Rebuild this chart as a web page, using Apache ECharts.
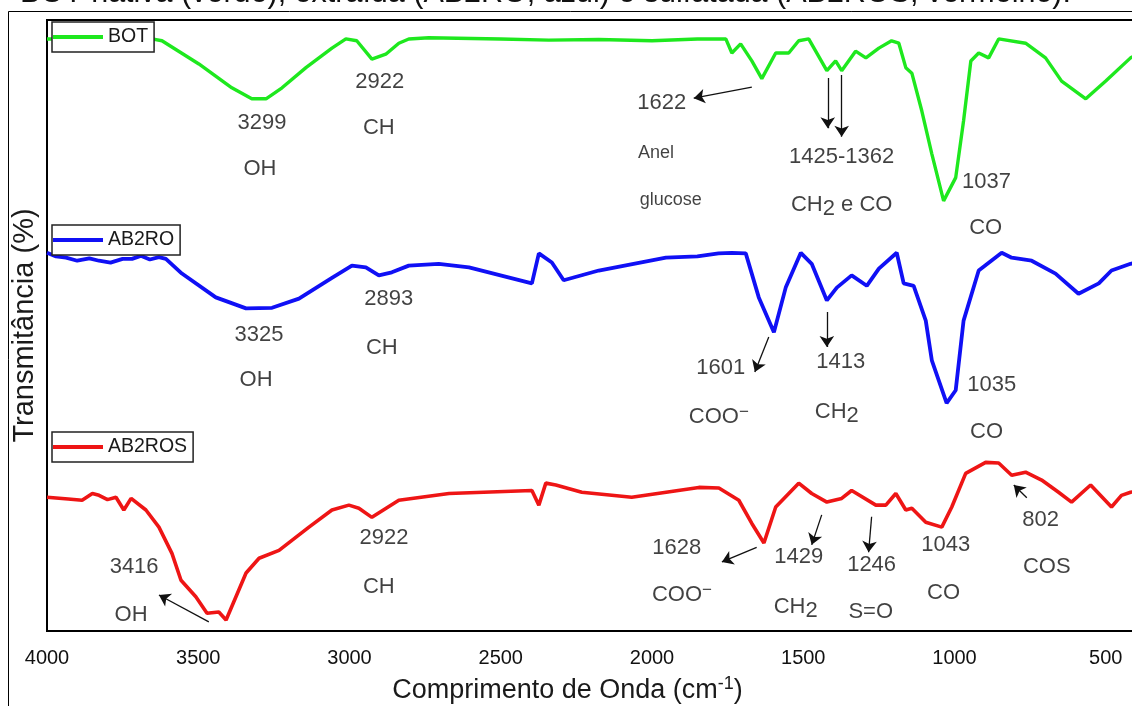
<!DOCTYPE html>
<html>
<head>
<meta charset="utf-8">
<script src="https://cdn.jsdelivr.net/npm/echarts@6/dist/echarts.min.js"></script>
<style>html,body{margin:0;padding:0;background:#fff}#c{width:1132px;height:706px}</style>
</head>
<body>
<div id="c"></div>
<script>
// ---------- data ----------
const xTicks = [4000, 3500, 3000, 2500, 2000, 1500, 1000, 500];

const botWave = [4000,3653,3620,3498,3389,3323,3276,3223,3144,3058,3012,2976,2926,2880,2837,2804,2738,2500,2341,2176,2000,1850,1756,1736,1707,1670,1637,1591,1548,1515,1482,1422,1393,1373,1327,1293,1250,1208,1184,1161,1141,1108,1075,1036,996,970,946,920,887,854,765,699,646,566,500,418,400];
const botT    = [96.9,96.9,96.6,92.8,88.9,87.1,87.1,88.9,92.2,95.4,96.9,96.6,93.6,94.4,96.2,96.9,97.1,96.9,96.7,96.8,96.6,96.9,96.9,94.6,96.1,93.3,90.4,94.6,94.6,96.6,96.9,91.7,93.3,91.7,94.9,93.8,95.4,96.6,96.2,92.2,91.3,85.1,78.1,70.4,74.2,83.5,93.3,94.6,93.8,96.9,96.2,93.8,90.0,87.1,90.0,93.8,94.2];

const ab2roWave = [4000,3970,3937,3900,3860,3828,3790,3750,3719,3690,3660,3630,3607,3554,3442,3342,3256,3167,3058,2992,2946,2903,2860,2804,2705,2605,2397,2374,2331,2292,2176,1954,1850,1780,1736,1690,1647,1597,1558,1508,1472,1422,1389,1340,1290,1250,1191,1168,1135,1095,1075,1026,996,970,920,844,811,745,666,590,523,481,418,400];
const ab2roT    = [61.9,61.3,61.1,60.6,61.0,60.6,60.3,60.9,60.9,61.4,60.8,61.2,60.9,58.5,54.6,52.8,52.9,54.4,57.8,59.8,59.5,58.2,58.7,59.8,60.1,59.5,56.9,61.8,60.3,57.4,59.0,61.1,61.3,61.8,61.9,61.8,54.6,48.9,56.2,61.9,60.1,54.1,56.2,58.2,56.5,59.3,61.9,56.9,56.5,50.8,44.3,37.3,39.4,50.8,59.0,61.9,61.1,60.6,58.5,55.2,56.9,59.0,60.1,60.3];

const ab2rosWave = [4000,3930,3884,3850,3828,3800,3772,3746,3722,3673,3630,3587,3557,3508,3471,3432,3408,3342,3299,3233,3134,3058,3002,2969,2926,2837,2671,2397,2374,2351,2318,2232,2067,1845,1779,1713,1670,1630,1591,1515,1472,1422,1373,1340,1260,1227,1194,1161,1141,1095,1042,1009,963,897,854,811,765,712,656,613,550,481,448,418,400];
const ab2rosT    = [21.9,21.6,21.4,22.5,22.2,21.5,21.9,19.8,21.7,19.8,17.0,12.7,8.3,5.6,2.9,3.1,1.8,9.5,11.9,13.2,17.0,19.8,20.6,20.1,18.6,21.4,22.5,23.0,20.6,24.2,23.9,22.7,21.9,23.5,23.4,21.4,17.6,14.4,20.3,24.2,22.5,21.1,21.7,23.0,20.6,20.6,22.5,19.8,20.1,17.8,17.0,20.3,25.8,27.6,27.5,25.5,26.0,24.7,22.7,21.1,23.9,20.3,22.2,22.7,22.9];

// annotation texts and where they sit (wavenumber, transmittance)
const annotText = ['3299','OH','2922','CH','1622','{sm|Anel}','{sm|glucose}','1425-1362','CH{sub|2} e CO','1037','CO',
                   '3325','OH','2893','CH','1601','COO{sup|−}','1413','CH{sub|2}','1035','CO',
                   '3416','OH','2922','CH','1628','COO{sup|−}','1429','CH{sub|2}','1246','S=O','1043','CO','802','COS'];
const annotV = [3289,3296,2900,2903,1968,1987,1938,1373,1373,894,897,
                3299,3309,2870,2893,1773,1779,1376,1389,877,894,
                3712,3722,2886,2903,1918,1901,1515,1525,1274,1277,1029,1036,715,695];
const annotT = [83.1,75.6,89.9,82.3,86.4,78.2,70.5,77.6,69.7,73.5,66.0,
                48.4,41.1,54.3,46.3,43.0,35.0,44.0,35.8,40.3,32.6,
                10.5,2.6,15.2,7.2,13.6,5.9,12.1,3.9,10.8,3.1,14.1,6.2,18.2,10.5];

// arrows: from (v,T) to (v,T) with head at the "to" end
const arrowFromV = [1670,1419,1373,1614,1422,3465,1654,1439,1274,761];
const arrowFromT = [89.0,90.5,91.0,48.1,52.2,1.5,13.7,19.0,18.7,21.8];
const arrowToV   = [1862,1419,1373,1660,1422,3630,1769,1472,1284,804];
const arrowToT   = [87.2,82.3,80.9,42.4,46.5,5.9,11.3,14.1,12.9,23.9];

const seriesNames = ['BOT', 'AB2RO', 'AB2ROS'];
// ---------------------------------------------------

const zip = (a, b) => a.map((v, i) => [v, b[i]]);
const font = "'Liberation Sans', Arial, Helvetica, sans-serif";

const annotData = annotText.map((t, i) => ({ value: [annotV[i], annotT[i]], text: t }));
const arrowData = arrowFromV.map((v, i) => ({
  coords: [[v, arrowFromT[i]], [arrowToV[i], arrowToT[i]]]
}));

const lineSeries = (name, data, color, w) => ({
  name, type: 'line', data, showSymbol: false, symbol: 'none',
  lineStyle: { color, width: w }, itemStyle: { color },
  animation: false, silent: true, z: 2
});

const legendBox = (name, top) => ({
  data: [name], left: 52, top, orient: 'horizontal',
  icon: 'rect', itemWidth: 50, itemHeight: 4,
  padding: [5, 6, 5, 1], itemGap: 0,
  borderColor: '#222', borderWidth: 1.5, backgroundColor: '#fff',
  textStyle: { fontSize: 19.5, color: '#1a1a1a', fontFamily: font },
  selectedMode: false, z: 10
});

const chart = echarts.init(document.getElementById('c'), null, { renderer: 'canvas' });
chart.setOption({
  backgroundColor: '#fff',
  animation: false,
  grid: { left: 47, right: -4, top: 20, bottom: 75, outerBoundsMode: 'none', containLabel: false,
          show: true, borderColor: '#000', borderWidth: 2, backgroundColor: 'transparent' },
  xAxis: {
    type: 'value', inverse: true, min: 400, max: 4000,
    axisLine: { show: true, lineStyle: { color: '#000', width: 2 } },
    axisTick: { show: false },
    splitLine: { show: false },
    axisLabel: { customValues: xTicks, formatter: v => String(v), fontSize: 20, color: '#111', margin: 17, fontFamily: font },
    name: 'Comprimento de Onda (cm{sup|-1})',
    nameLocation: 'middle', nameGap: 44,
    nameTextStyle: {
      fontSize: 27, color: '#1a1a1a', fontFamily: font, padding: [0, 48, 0, 0], lineHeight: 32,
      rich: { sup: { fontSize: 18, verticalAlign: 'top', color: '#1a1a1a', fontFamily: font, lineHeight: 32 } }
    }
  },
  yAxis: {
    type: 'value', min: 0, max: 100,
    axisLine: { show: true, lineStyle: { color: '#000', width: 2 } },
    axisTick: { show: false }, axisLabel: { show: false }, splitLine: { show: false },
    name: 'Transmitância (%)', nameLocation: 'middle', nameGap: 8,
    nameTextStyle: { fontSize: 29, color: '#1a1a1a', fontFamily: font }
  },
  legend: [legendBox(seriesNames[0], 22), legendBox(seriesNames[1], 225), legendBox(seriesNames[2], 432)],
  graphic: [
    { type: 'rect', shape: { x: 8.5, y: 11.5, width: 1140, height: 720 }, style: { fill: 'none', stroke: '#000', lineWidth: 1 }, silent: true, z: 0 },
    { type: 'text', x: 20, y: 9, style: { text: 'BOT nativa (verde), extraída (AB2RO, azul) e sulfatada (AB2ROS, vermelho).', fontSize: 30.5, fill: '#111', fontFamily: font, verticalAlign: 'bottom', align: 'left' }, silent: true }
  ],
  series: [
    lineSeries(seriesNames[0], zip(botWave, botT), '#1ee81e', 3.4),
    lineSeries(seriesNames[1], zip(ab2roWave, ab2roT), '#1010f5', 3.8),
    lineSeries(seriesNames[2], zip(ab2rosWave, ab2rosT), '#ee1515', 3.6),
    {
      name: 'annotations', type: 'scatter', data: annotData, symbolSize: 0, silent: true, animation: false, z: 5,
      label: {
        show: true, position: 'inside', formatter: p => p.data.text,
        fontSize: 22, color: '#111', fontFamily: font, lineHeight: 26, textBorderWidth: 0,
        rich: {
          sm: { fontSize: 18, color: '#111', fontFamily: font, textBorderWidth: 0 },
          sub: { fontSize: 22, verticalAlign: 'bottom', color: '#111', fontFamily: font, lineHeight: 30, textBorderWidth: 0 },
          sup: { fontSize: 17, verticalAlign: 'top', color: '#111', fontFamily: font, lineHeight: 22, textBorderWidth: 0 }
        }
      }
    },
    {
      name: 'arrows', type: 'lines', coordinateSystem: 'cartesian2d', data: arrowData,
      symbol: ['none', 'arrow'], symbolSize: 11, silent: true, animation: false, z: 6,
      lineStyle: { color: '#111', width: 1.3, opacity: 1, curveness: 0 },
      itemStyle: { color: '#111' }
    }
  ]
});
</script>
</body>
</html>
